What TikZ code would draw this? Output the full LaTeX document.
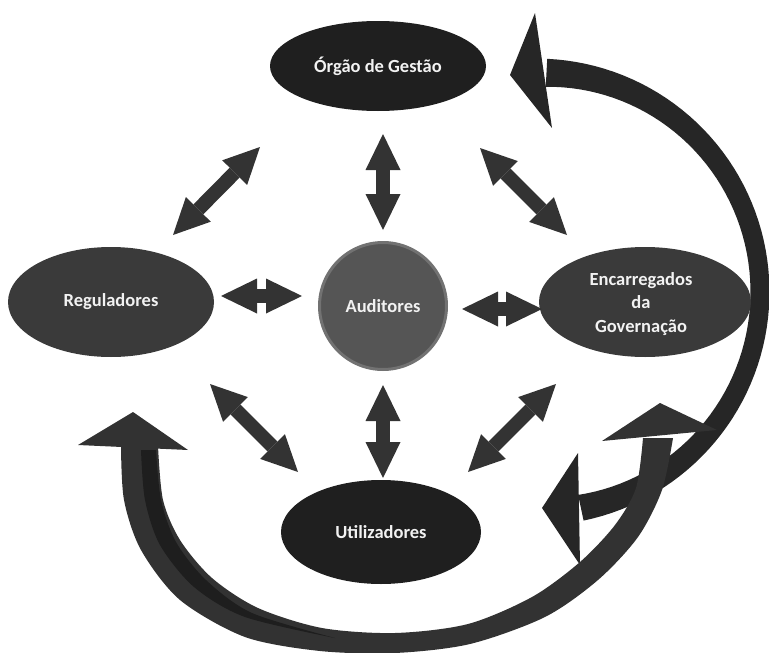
\documentclass[tikz,border=0pt]{standalone}
\usepackage{fontspec}
\setmainfont{Carlito}
\usetikzlibrary{arrows.meta,shapes.geometric}

\definecolor{darkblob}{HTML}{1F1F1F}
\definecolor{midblob}{HTML}{3A3A3A}
\definecolor{coreblob}{HTML}{555555}
\definecolor{coreedge}{HTML}{727272}
\definecolor{arrowgray}{HTML}{333333}
\definecolor{loopback}{HTML}{262626}
\definecolor{loopfront}{HTML}{323232}
\definecolor{loopshade}{HTML}{1E1E1E}
\definecolor{labeltext}{HTML}{F2F2F2}

\begin{document}
\begin{tikzpicture}[x=1pt,y=-1pt,
  party/.style={ellipse, inner sep=0pt, text=labeltext,
    font=\fontsize{18.5}{23.5}\selectfont\bfseries, align=center},
  dbl/.style={draw=arrowgray, line width=14pt,
    arrows={Triangle[length=36pt,width=35pt,line width=0pt]-Triangle[length=36pt,width=35pt,line width=0pt]}},
]
\useasboundingbox (0,0) rectangle (769,653);

% ---- large loop behind: a tapering circular band round the right side
% centre (535,292); mid radius 225-5u^2, width 19+10u^2 with u = t/87
\fill[loopback]
  plot[domain=-87:78, samples=70, variable=\t]
    ({535+(234.5-(\t/87)*(\t/87))*cos(\t)}, {292+(234.5-(\t/87)*(\t/87))*sin(\t)})
  -- plot[domain=78:-87, samples=70, variable=\t]
    ({535+(215.5-10*(\t/87)*(\t/87))*cos(\t)}, {292+(215.5-10*(\t/87)*(\t/87))*sin(\t)})
  -- cycle;
\fill[loopback] (535,13) -- (510,75) -- (552,128) -- cycle;
\fill[loopback] (578,453) -- (542,508) -- (580,565) -- cycle;

% ---- large loop in front: from the right, under the bottom, up the left side
\fill[loopfront] plot[smooth] coordinates {(121,446) (124,500) (141,550) (180,600) (245,637) (320,651) (395,653) (470,644) (545,617) (598,580) (638,537) (662,490) (673,438)}
  -- plot[smooth] coordinates {(643,438) (636,488) (615,525) (580,562) (532,597) (468,624) (395,633) (322,628) (258,608) (212,578) (180,540) (163,500) (158,446)} -- cycle;
% darker fold along its inner side, fading out towards the bottom
\fill[loopshade] plot[smooth] coordinates {(141,450) (145,500) (160,545) (194,587) (245,617) (335,638)}
  -- plot[smooth] coordinates {(335,638) (252,613) (206,580) (176,542) (161,500) (156,450)} -- cycle;
\fill[loopfront] (78,445) -- (133,412) -- (188,450) -- cycle;
\fill[loopfront] (602,441) -- (660,403) -- (717,430) -- cycle;

% ---- parties
\node[party, fill=darkblob, minimum width=216pt, minimum height=90pt] (org) at (378,66) {Órgão de Gestão};
\node[party, fill=midblob, minimum width=206pt, minimum height=110pt] (reg) at (111,302) {Reguladores};
\node[party, fill=midblob, minimum width=212pt, minimum height=110pt] (enc) at (645,302) {};
\node[text=labeltext, font=\fontsize{18.5}{23.5}\selectfont\bfseries, align=center] (enctext) at (641,304) {Encarregados\\da\\Governação};
\node[party, fill=darkblob, minimum width=200pt, minimum height=104pt] (uti) at (381,532) {Utilizadores};
\node[circle, fill=coreblob, draw=coreedge, line width=3pt, minimum size=127pt, inner sep=0pt,
      text=labeltext, font=\fontsize{18.5}{23.5}\selectfont\bfseries] (aud) at (383,306) {Auditores};

% ---- two-way links around the auditors
\coordinate (vt1) at (383,134);  \coordinate (vt2) at (383,230);
\coordinate (vb1) at (383,385);  \coordinate (vb2) at (383,478);
\coordinate (hl1) at (221,296);  \coordinate (hl2) at (302,296);
\coordinate (hr1) at (462,309);  \coordinate (hr2) at (542,309);
\coordinate (dtl1) at (260,147); \coordinate (dtl2) at (173,235);
\coordinate (dtr1) at (480,148); \coordinate (dtr2) at (567,235);
\coordinate (dbl1) at (210,384); \coordinate (dbl2) at (298,472);
\coordinate (dbr1) at (556,384); \coordinate (dbr2) at (468,472);

\draw[dbl] (vt1) -- (vt2);
\draw[dbl] (vb1) -- (vb2);
\draw[dbl] (hl1) -- (hl2);
\draw[dbl] (hr1) -- (hr2);
\draw[dbl] (dtl1) -- (dtl2);
\draw[dbl] (dtr1) -- (dtr2);
\draw[dbl] (dbl1) -- (dbl2);
\draw[dbl] (dbr1) -- (dbr2);
\end{tikzpicture}
\end{document}
